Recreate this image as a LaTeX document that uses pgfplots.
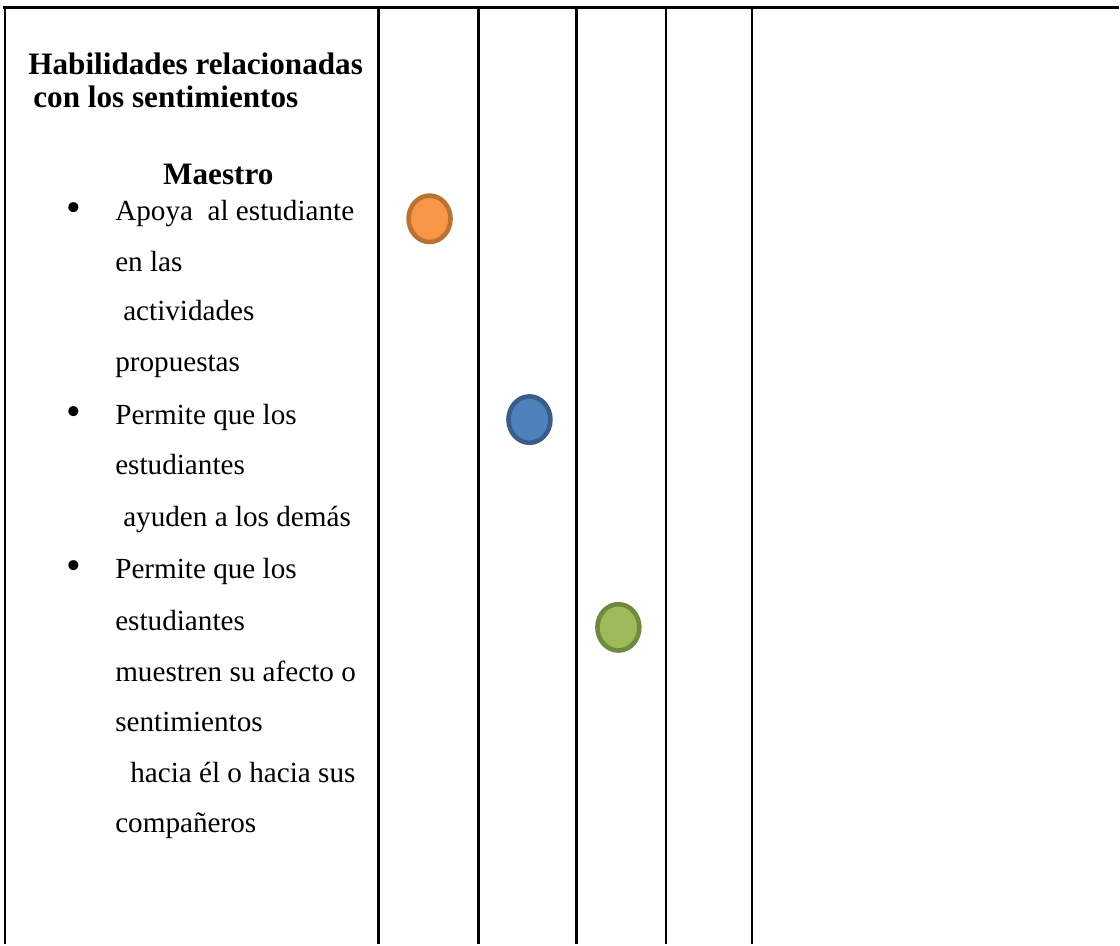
\documentclass[border=0pt]{standalone}
\usepackage{pgfplots}
\pgfplotsset{compat=1.18}
\usepackage{fontspec}
\setmainfont{Liberation Serif}
\definecolor{orf}{HTML}{F79646}
\definecolor{ord}{HTML}{B87333}
\definecolor{blf}{HTML}{4F81BD}
\definecolor{bld}{HTML}{385D8A}
\definecolor{grf}{HTML}{9BBB59}
\definecolor{grd}{HTML}{71893F}
\begin{document}
\begin{tikzpicture}
\begin{axis}[
  width=560pt, height=472.5pt, scale only axis,
  xmin=0, xmax=1120, ymin=0, ymax=945,
  y dir=reverse, axis lines=none, clip=false,
]
% page background
\addplot[fill=white, draw=none] coordinates {(0,0) (1120,0) (1120,945) (0,945)} \closedcycle;
% table rules
\addplot[black, line width=1.15pt] coordinates {(3.5,7.5) (1120,7.5)};
\addplot[black, line width=1.15pt] coordinates {(4.7,7.5) (4.7,945)};
\addplot[black, line width=1.15pt] coordinates {(379,7.5) (379,945)};
\addplot[black, line width=1.15pt] coordinates {(479,7.5) (479,945)};
\addplot[black, line width=1.15pt] coordinates {(577,7.5) (577,945)};
\addplot[black, line width=1.15pt] coordinates {(667,7.5) (667,945)};
\addplot[black, line width=1.15pt] coordinates {(753,7.5) (753,945)};
% markers
\addplot[only marks, mark=*, mark size=11.6pt, mark options={xscale=0.905, fill=orf, draw=ord, line width=2.3pt}] coordinates {(430,219)};
\addplot[only marks, mark=*, mark size=11.6pt, mark options={xscale=0.905, fill=blf, draw=bld, line width=2.3pt}] coordinates {(530,420)};
\addplot[only marks, mark=*, mark size=11.6pt, mark options={xscale=0.905, fill=grf, draw=grd, line width=2.3pt}] coordinates {(619,628)};
% text
\tikzset{hd/.style={anchor=base west, inner sep=0pt, font=\fontsize{15.6pt}{18pt}\selectfont\bfseries},
         tx/.style={anchor=base west, inner sep=0pt, font=\fontsize{14.6pt}{16pt}\selectfont},
         bu/.style={anchor=base, inner sep=0pt, font=\fontsize{21pt}{22pt}\selectfont}}
\node[hd] at (axis cs:28,75) {Habilidades relacionadas};
\node[hd] at (axis cs:33,108) {con los sentimientos};
\node[hd] at (axis cs:163,185) {Maestro};
\node[bu] at (axis cs:74,222) {•};
\node[bu] at (axis cs:74,426) {•};
\node[bu] at (axis cs:74,580) {•};
\node[tx] at (axis cs:115,221) {Apoya\ \ al estudiante};
\node[tx] at (axis cs:115,272) {en las};
\node[tx] at (axis cs:123,321) {actividades};
\node[tx] at (axis cs:115,372) {propuestas};
\node[tx] at (axis cs:115,425) {Permite que los};
\node[tx] at (axis cs:115,475) {estudiantes};
\node[tx] at (axis cs:123,527) {ayuden a los demás};
\node[tx] at (axis cs:115,579) {Permite que los};
\node[tx] at (axis cs:115,631) {estudiantes};
\node[tx] at (axis cs:115,682) {muestren su afecto o};
\node[tx] at (axis cs:115,732) {sentimientos};
\node[tx] at (axis cs:130,783) {hacia él o hacia sus};
\node[tx] at (axis cs:115,833) {compañeros};
\end{axis}
\end{tikzpicture}
\end{document}
